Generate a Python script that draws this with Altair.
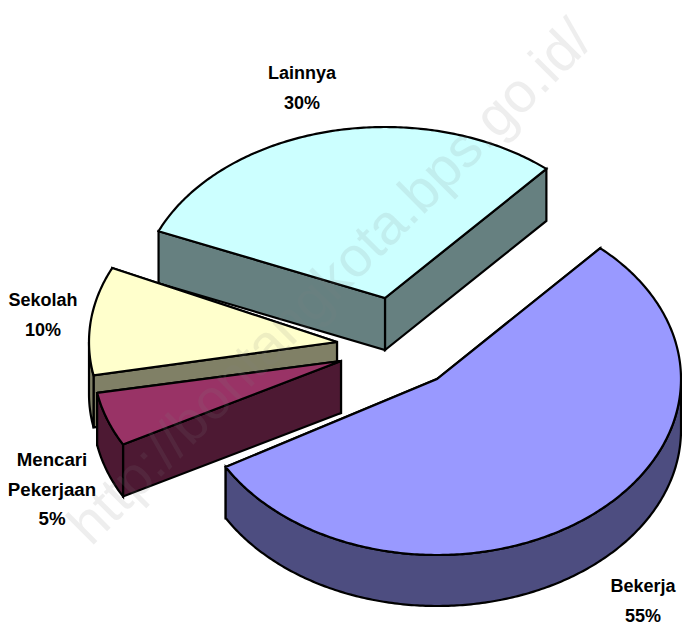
import math
import altair as alt
import pandas as pd

# Slices in drawing order (back to front)
names = ["Lainnya", "Sekolah", "Mencari Pekerjaan", "Bekerja"]
shares = [30, 10, 5, 55]
top_colors = ["#CCFFFF", "#FFFFCC", "#993366", "#9999FF"]
side_colors = ["#668080", "#808066", "#4D1933", "#4D4D80"]
label_lines = [["Lainnya"], ["Sekolah"], ["Mencari", "Pekerjaan"], ["Bekerja"]]
watermark = "http://bontangkota.bps.go.id/"

# Geometry of the exploded 3D pie (kept apart from the values)
centers_x = [385, 337, 341, 437]
centers_y = [298, 342, 361, 379]
radii_x = [246, 248, 248, 244]
radii_y = [171, 175, 175, 176]
depths = [52, 52, 52, 51]
tilts = [0, -2, -2.5, -1]
label_x = [302, 43, 52, 643]
label_y = [74, 301, 460, 587]
label_sizes = [18, 18, 18.7, 18]

START = 49.0
W, H = 674, 621
X0, Y0 = 8, 8

xs = alt.X("x:Q", axis=None, scale=alt.Scale(domain=[X0, X0 + W], range=[0, W], nice=False, zero=False, padding=0))
ys = alt.Y("y:Q", axis=None, scale=alt.Scale(domain=[Y0, Y0 + H], range=[0, H], nice=False, zero=False, padding=0))


def pt(cx, cy, rx, ry, deg, drop=0.0):
    r = math.radians(deg)
    return (cx + rx * math.cos(r), cy - ry * math.sin(r) + drop)


def arc(cx, cy, rx, ry, a, b, drop=0.0):
    n = max(2, int(abs(b - a) * 1.5))
    return [pt(cx, cy, rx, ry, a + (b - a) * i / n, drop) for i in range(n + 1)]


def poly(points, fill):
    closed = list(points) + [points[0], points[1]]
    df = pd.DataFrame({"x": [p[0] for p in closed], "y": [p[1] for p in closed], "i": range(len(closed))})
    return (
        alt.Chart(df)
        .mark_line(fill=fill, stroke="black", strokeWidth=2.2, strokeJoin="miter", interpolate="linear", clip=False)
        .encode(x=xs, y=ys, order="i:Q")
    )


layers = []
angle = START
for share, top, side, cx, cy, rx, ry, depth, tilt in zip(
    shares, top_colors, side_colors, centers_x, centers_y, radii_x, radii_y, depths, tilts
):
    sweep = share / 100 * 360
    a0 = angle + tilt
    a1 = a0 + sweep
    angle += sweep
    faces = []
    for a in (a0, a1):
        p = pt(cx, cy, rx, ry, a)
        faces.append([(cx, cy), p, (p[0], p[1] + depth), (cx, cy + depth)])
    lo, hi = max(a0, 180), min(a1, 360)
    if hi > lo:
        faces.append(arc(cx, cy, rx, ry, lo, hi) + arc(cx, cy, rx, ry, hi, lo, depth))
    for f in faces:
        layers.append(poly(f, side))
    layers.append(poly([(cx, cy)] + arc(cx, cy, rx, ry, a0, a1), top))

rows = []
for lines, share, lx, ly, size in zip(label_lines, shares, label_x, label_y, label_sizes):
    for k, t in enumerate(lines + [f"{share}%"]):
        rows.append({"x": lx, "y": ly + k * 29.5, "t": t, "s": size})
layers.append(
    alt.Chart(pd.DataFrame(rows))
    .mark_text(font="Liberation Sans", fontWeight="bold", color="black", align="center", baseline="middle")
    .encode(x=xs, y=ys, text="t:N", size=alt.Size("s:Q", scale=None))
)
layers.append(
    alt.Chart(pd.DataFrame({"x": [331], "y": [283], "t": [watermark]}))
    .mark_text(font="Liberation Sans", fontSize=56.5, color="#808080", opacity=0.13, angle=315, align="center", baseline="middle")
    .encode(x=xs, y=ys, text="t:N")
)

chart = (
    alt.layer(*layers)
    .properties(width=W, height=H, padding=0, background="white", autosize=alt.AutoSizeParams(type="none"))
    .configure_view(stroke=None)
)
chart.save("out.html", embed_options={"renderer": "svg", "actions": False})
